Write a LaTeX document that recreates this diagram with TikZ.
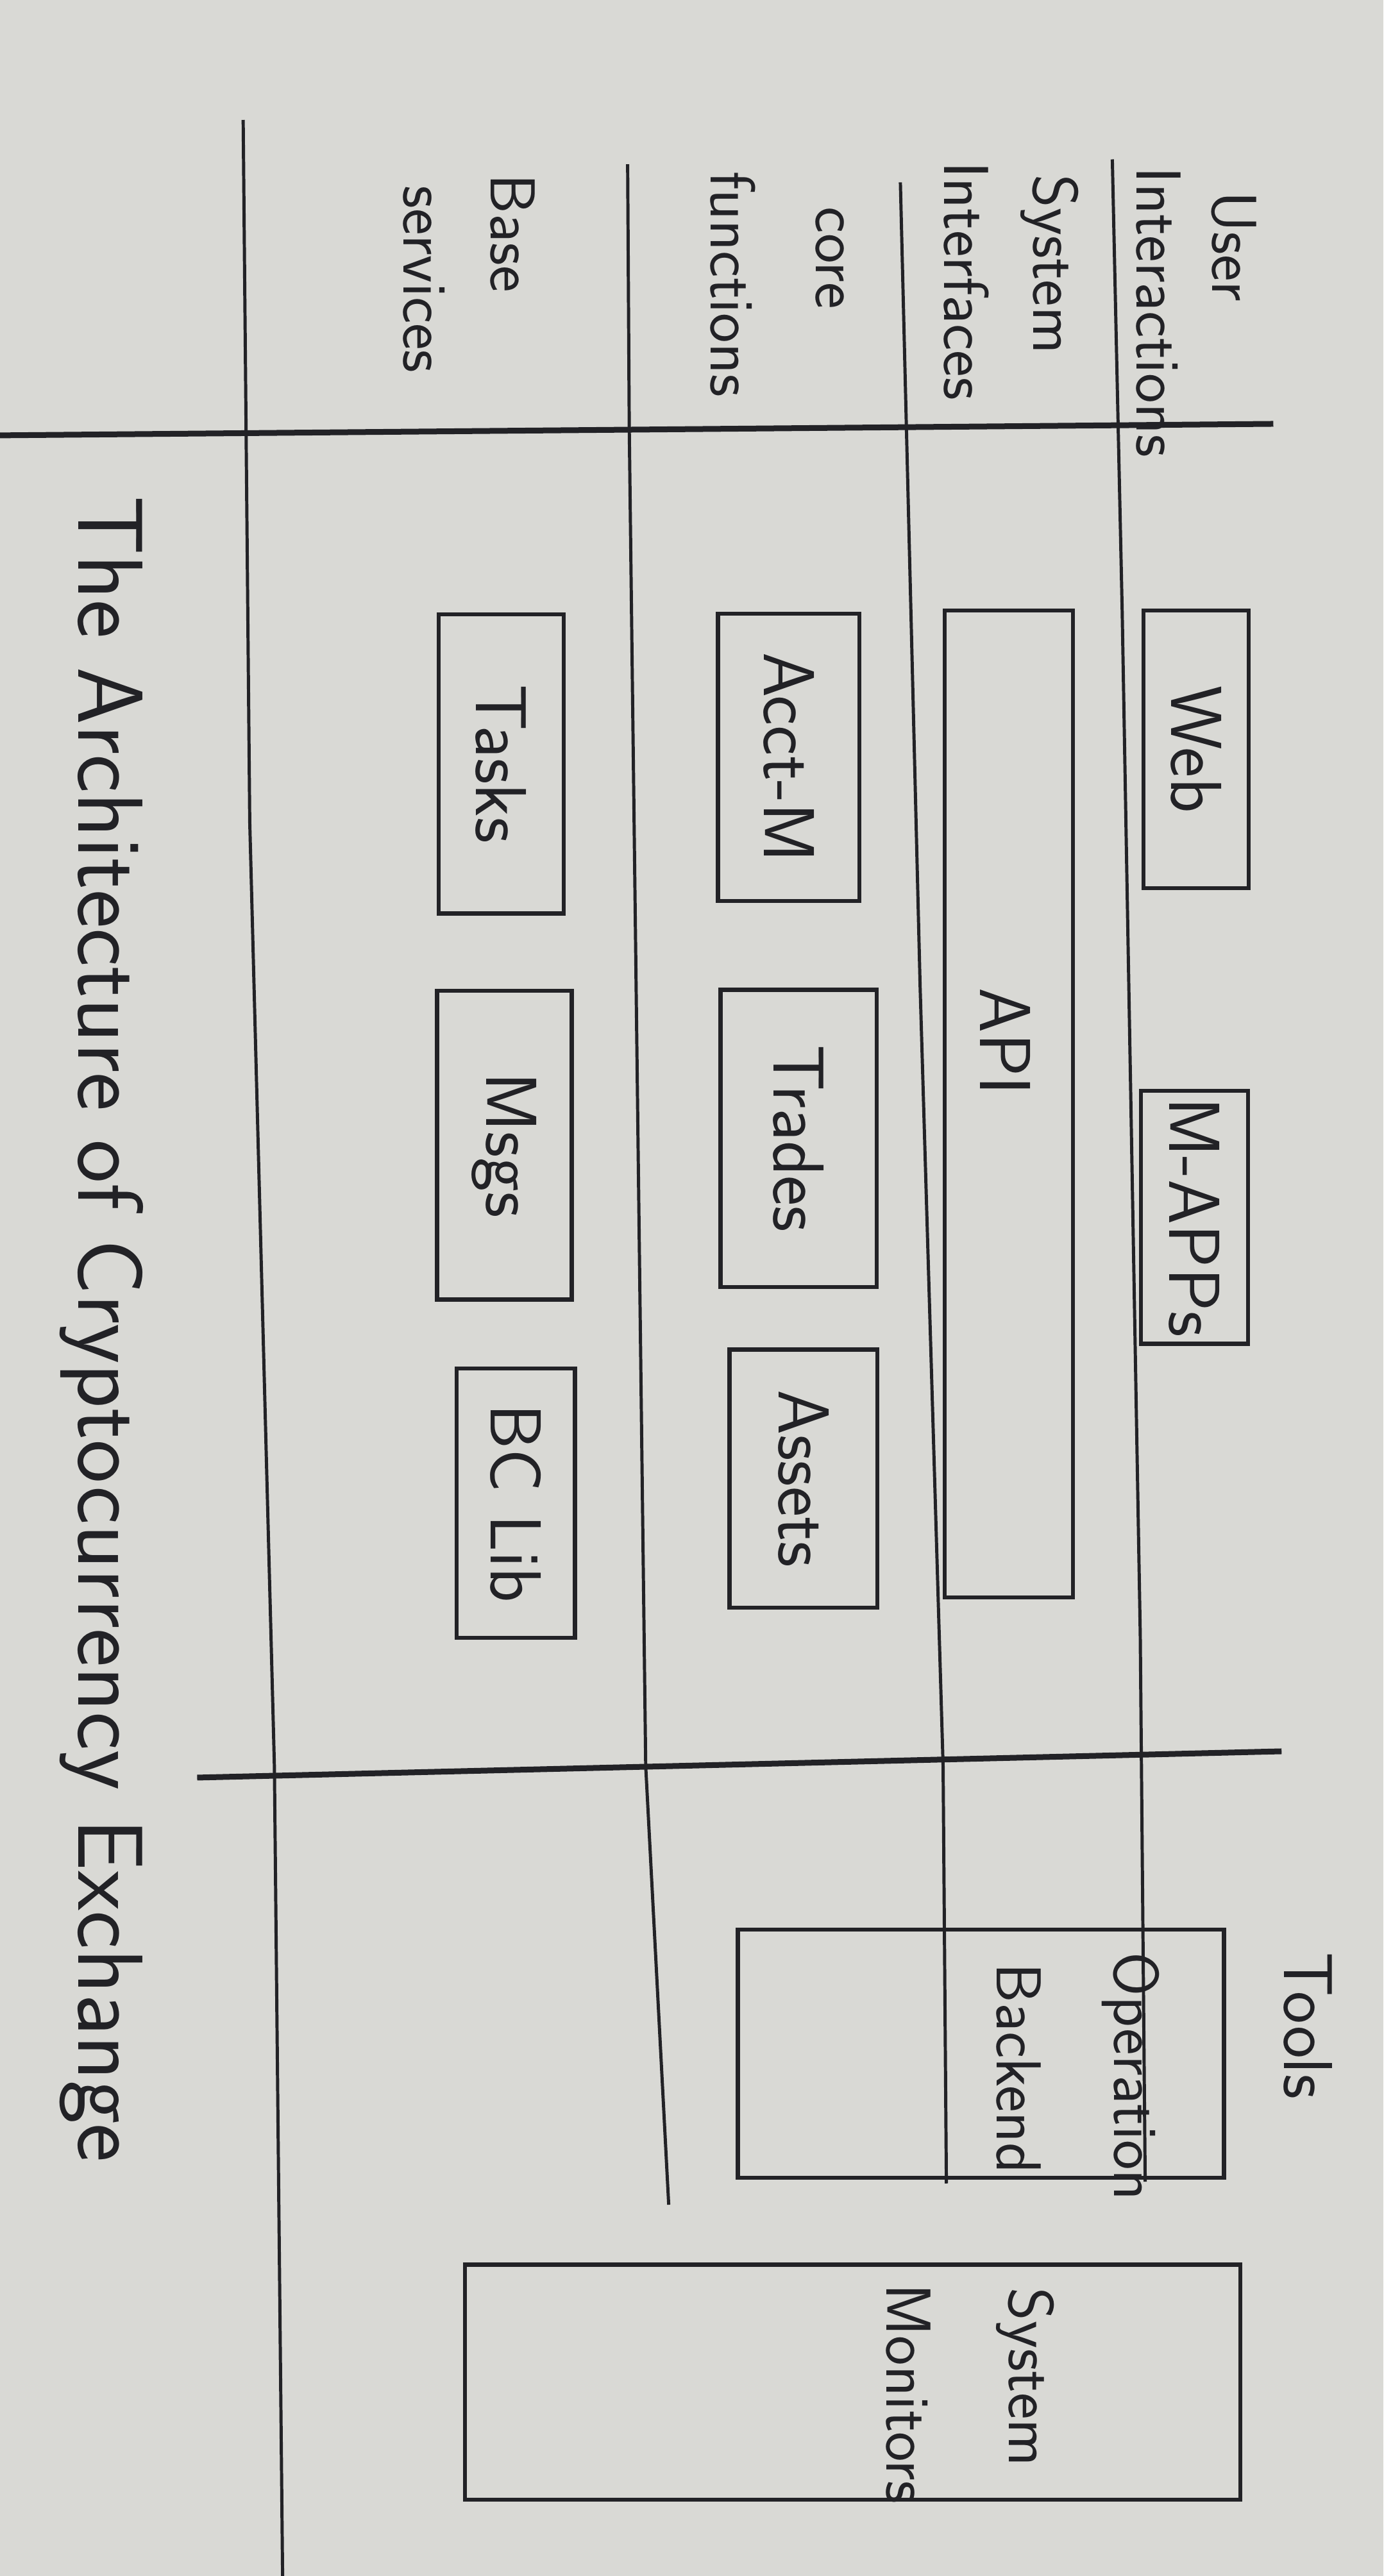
\documentclass[tikz,border=0pt]{standalone}
\usepackage{fontspec}
\usetikzlibrary{positioning}
\definecolor{paper}{RGB}{217,217,213}
\definecolor{ink}{RGB}{34,34,38}

\begin{document}
\begin{tikzpicture}[x=0.02cm,y=-0.02cm,
  lab/.style={rotate=-90,text=ink,inner sep=0pt,font=\sffamily\fontsize{22}{26}\selectfont},
  blk/.style={draw=ink,line width=1.4pt,rotate=-90,text=ink,inner sep=0pt,font=\sffamily\fontsize{25}{30}\selectfont},
  sep/.style={draw=ink,line width=1.1pt},
  bar/.style={draw=ink,line width=2pt}]
\fill[paper] (0,0) rectangle (842,1568);
\useasboundingbox (0,0) rectangle (842,1568);
% layer separators
\draw[bar] (0,265)--(775,258);
\draw[bar] (120,1082)--(780,1066);
\draw[sep] (148,73)--(152,500)--(167,1075)--(172,1568);
\draw[sep] (382,100)--(383,262)--(393,1075)--(407,1342);
\draw[sep] (548,111)--(560,600)--(574,1075)--(576,1329);
\draw[sep] (677,97)--(683,372)--(694,995)--(697,1328);
% layer names
\node[lab] (user) at (751,150) {User};
\node[lab] (interact) at (705,190) {Interactions};
\node[lab] (system) at (639,161) {System};
\node[lab] (interf) at (588,171) {Interfaces};
\node[lab] (core) at (505,157) {core};
\node[lab] (func) at (446,173) {functions};
\node[lab] (base) at (312,142) {Base};
\node[lab] (serv) at (258,170) {services};
% blocks
\node[blk,minimum width=3.38cm,minimum height=1.28cm] (web) at (728,456) {Web};
\node[blk,minimum width=3.08cm,minimum height=1.3cm] (mapps) at (727,741) {M-APPs};
\node[blk,minimum width=12.02cm,minimum height=1.56cm] (api) at (614,672) {};
\node[blk,draw=none] (apitxt) at (612,634) {API};
\node[blk,minimum width=3.5cm,minimum height=1.72cm] (acct) at (480,461) {Acct-M};
\node[blk,minimum width=3.62cm,minimum height=1.9cm] (trades) at (486,693) {Trades};
\node[blk,minimum width=3.14cm,minimum height=1.8cm] (assets) at (489,900) {Assets};
\node[blk,minimum width=3.64cm,minimum height=1.52cm] (tasks) at (305,465) {Tasks};
\node[blk,minimum width=3.76cm,minimum height=1.64cm] (msgs) at (307,697) {Msgs};
\node[blk,minimum width=3.28cm,minimum height=1.44cm] (bclib) at (314,915) {BC Lib};
% tools
\node[lab,font=\sffamily\fontsize{24}{28}\selectfont] (tools) at (796,1233) {Tools};
\node[blk,minimum width=3.02cm,minimum height=5.92cm] (opback) at (597,1250) {};
\node[lab] (optxt) at (688,1264) {Operation};
\node[lab] (backtxt) at (620,1259) {Backend};
\node[blk,minimum width=2.86cm,minimum height=9.44cm] (sysmon) at (519,1450) {};
\node[lab] (systxt) at (624,1447) {System};
\node[lab] (montxt) at (553,1457) {Monitors};
\node[lab,font=\sffamily\fontsize{32}{38}\selectfont] (title) at (62,809) {The Architecture of Cryptocurrency Exchange};
\end{tikzpicture}
\end{document}
